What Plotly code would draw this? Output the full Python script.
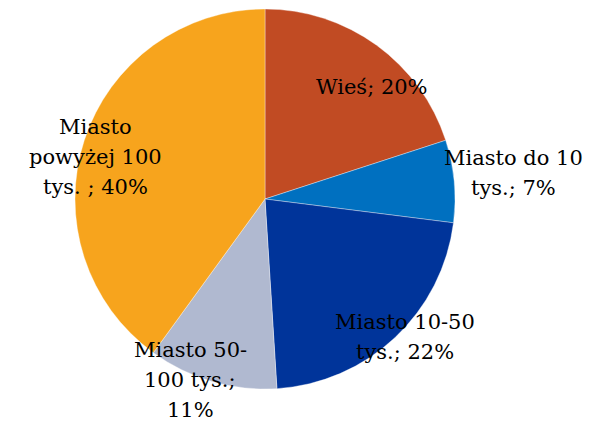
import plotly.graph_objects as go

categories = ["Wieś", "Miasto do 10 tys.", "Miasto 10-50 tys.", "Miasto 50-100 tys.", "Miasto powyżej 100 tys. "]
values = [20, 7, 22, 11, 40]
label_lines = [
    ["Wieś; 20%"],
    ["Miasto do 10", "tys.; 7%"],
    ["Miasto 10-50", "tys.; 22%"],
    ["Miasto 50-", "100 tys.;", "11%"],
    ["Miasto", "powyżej 100", "tys. ; 40%"],
]
colors = ["#C14B23", "#0070C0", "#00349A", "#B0B9D0", "#F7A41D"]

W, H = 589, 421
cx, cy, r = 265, 199, 190
LINE = 30

fig = go.Figure(go.Pie(
    labels=categories,
    values=values,
    sort=False,
    direction="clockwise",
    rotation=0,
    marker=dict(colors=colors, line=dict(color="rgba(255,255,255,0.6)", width=0.6)),
    textinfo="none",
    hoverinfo="label+percent",
    domain=dict(x=[(cx - r) / W, (cx + r) / W], y=[1 - (cy + r) / H, 1 - (cy - r) / H]),
    showlegend=False,
))

# centre of each label block, in pixels
label_pos = [(372, 87), (513, 173), (405, 337), (190, 380), (95, 157)]
for lines, (px, py) in zip(label_lines, label_pos):
    n = len(lines)
    for i, line in enumerate(lines):
        ly = py + (i - (n - 1) / 2) * LINE
        fig.add_annotation(
            x=px / W, y=1 - ly / H, xref="paper", yref="paper",
            text=line, showarrow=False,
            font=dict(family="DejaVu Serif", size=21, color="black"),
            align="center", xanchor="center", yanchor="middle",
        )

fig.update_layout(
    width=W, height=H,
    margin=dict(l=0, r=0, t=0, b=0),
    paper_bgcolor="white", plot_bgcolor="white",
)
fig.write_html("out.html", config={"displayModeBar": False},
               post_script="document.body.style.margin='0';")
